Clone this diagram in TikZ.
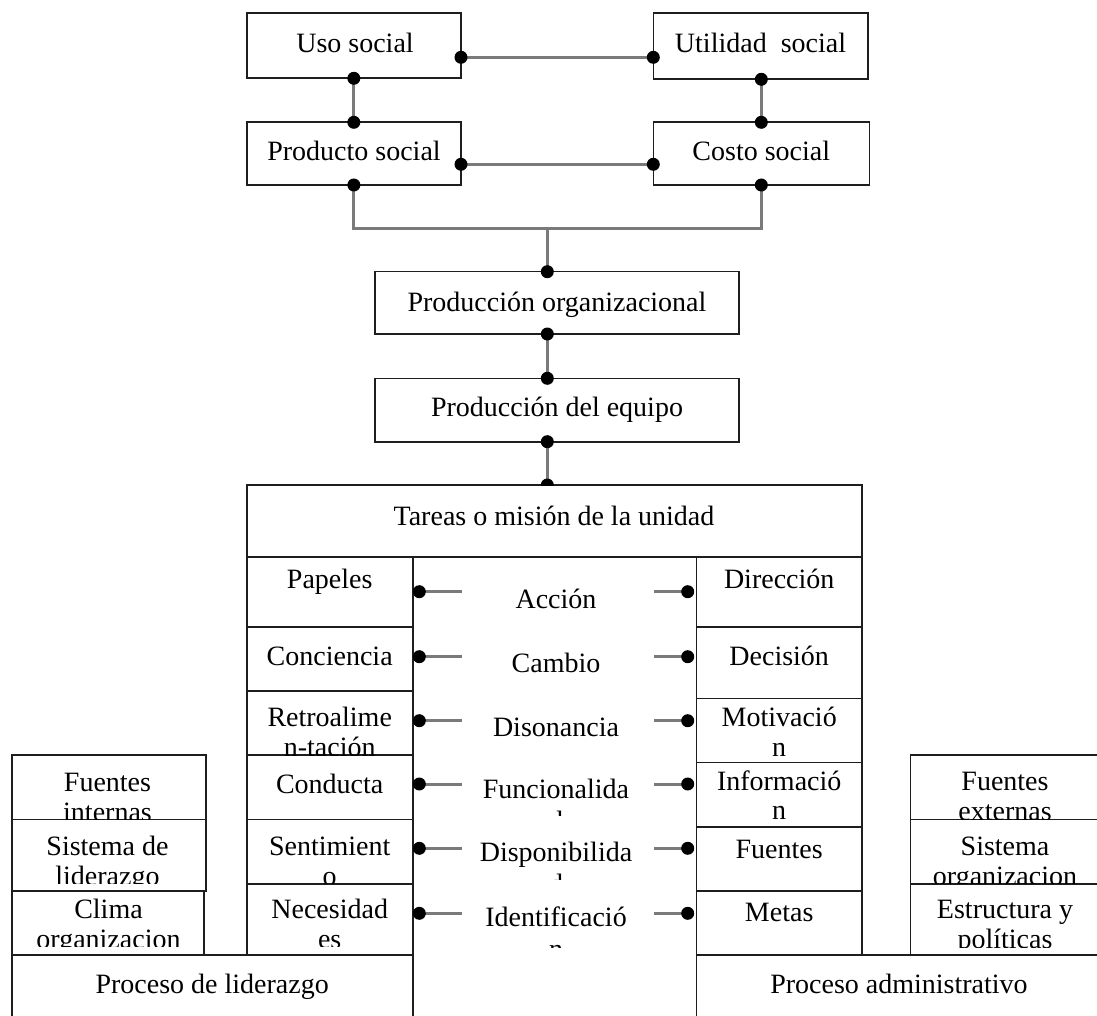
\documentclass[tikz,border=0pt]{standalone}
\usepackage{fontspec}
\setmainfont{Liberation Serif}
\usetikzlibrary{calc}
\definecolor{boxc}{HTML}{1E1E1E}
\definecolor{linkc}{HTML}{7A7A7A}
\tikzset{
  cellbox/.style={draw=boxc, line width=1.6pt, fill=white, inner sep=0pt, outer sep=0pt, shape=rectangle},
  lbl/.style={font=\fontsize{28}{30}\selectfont, text=black, inner sep=0pt, anchor=base},
  conn/.style={draw=linkc, line width=3pt},
  dotc/.style={fill=black},
}
% rectangle node from its corners: name, x1, y1, x2, y2
\newcommand\mkbox[5]{%
  \pgfmathsetmacro\mkboxW{#4-#2}\pgfmathsetmacro\mkboxH{#5-#3}%
  \pgfmathsetmacro\mkboxX{(#2+#4)/2}\pgfmathsetmacro\mkboxY{(#3+#5)/2}%
  \node[cellbox, minimum width=\mkboxW pt, minimum height=\mkboxH pt] (#1) at (\mkboxX,\mkboxY) {};}
% one line of text on a baseline: name, x, baseline, text
\newcommand\lbltext[4]{\node[lbl] (#1) at (#2,#3) {#4};}
\begin{document}
\begin{tikzpicture}[x=1pt,y=-1pt]
\useasboundingbox (0,0) rectangle (1097,1016);
\clip (0,0) rectangle (1097,1016);
\fill[white] (0,0) rectangle (1097,1016);

% ---------- upper chain ----------
\mkbox{uso}{246.7}{13.3}{461}{78.3}
\mkbox{util}{653.3}{13.3}{867.7}{79.3}
\mkbox{prod}{246.7}{122.3}{461}{185}
\mkbox{costo}{653.3}{122.3}{869.3}{185}
\mkbox{porg}{375}{271.7}{738.7}{334}
\mkbox{peq}{375}{378.3}{738.7}{441.7}
\mkbox{tareas}{246.7}{485}{862}{556.7}

\lbltext{t-uso}{355}{53}{Uso social}
\lbltext{t-util}{760.5}{53}{Utilidad~ social}
\lbltext{t-prod}{354}{161}{Producto social}
\lbltext{t-costo}{761.3}{161}{Costo social}
\lbltext{t-porg}{557}{311}{Producción organizacional}
\lbltext{t-peq}{557}{416}{Producción del equipo}
\lbltext{t-tareas}{554}{525}{Tareas o misión de la unidad}

% ---------- left column ----------
\mkbox{papeles}{246.7}{556.7}{412.7}{626.7}
\mkbox{conciencia}{246.7}{626.7}{412.7}{691}
\mkbox{retro}{246.7}{691}{412.7}{755}
\mkbox{conducta}{246.7}{755}{412.7}{819.3}
\mkbox{sentim}{246.7}{819.3}{412.7}{883.7}
\mkbox{necesid}{246.7}{883.7}{412.7}{955}

\lbltext{t-papeles}{329.7}{588}{Papeles}
\lbltext{t-conciencia}{329.7}{665}{Conciencia}
\begin{scope}
  \clip (247,691) rectangle (412,755);
  \lbltext{t-retro}{329.7}{726.5}{Retroalime}
  \lbltext{t-retro2}{329.7}{756.5}{n-tación}
\end{scope}
\lbltext{t-conducta}{329.7}{793}{Conducta}
\begin{scope}
  \clip (247,819.3) rectangle (412,883.7);
  \lbltext{t-sentim}{329.7}{855}{Sentimient}
  \lbltext{t-sentim2}{329.7}{885}{o}
\end{scope}
\begin{scope}
  \clip (247,883.7) rectangle (412,946);
  \lbltext{t-necesid}{329.7}{918}{Necesidad}
  \lbltext{t-necesid2}{329.7}{948}{es}
\end{scope}

% ---------- right column ----------
\mkbox{direccion}{696.3}{556.7}{862}{626.7}
\mkbox{decision}{696.3}{626.7}{862}{698.3}
\mkbox{motiv}{696.3}{698.3}{862}{762.3}
\mkbox{inform}{696.3}{762.3}{862}{826.7}
\mkbox{fuentesc}{696.3}{826.7}{862}{890.7}
\mkbox{metas}{696.3}{890.7}{862}{955}

\lbltext{t-direccion}{779.2}{588}{Dirección}
\lbltext{t-decision}{779.2}{665}{Decisión}
\begin{scope}
  \clip (697,698.3) rectangle (861,762.3);
  \lbltext{t-motiv}{779.2}{726.5}{Motivació}
  \lbltext{t-motiv2}{779.2}{756.5}{n}
\end{scope}
\begin{scope}
  \clip (697,762.3) rectangle (861,826.7);
  \lbltext{t-inform}{779.2}{790}{Informació}
  \lbltext{t-inform2}{779.2}{819.5}{n}
\end{scope}
\lbltext{t-fuentesc}{779.2}{858}{Fuentes}
\lbltext{t-metas}{779.2}{921.5}{Metas}

% ---------- middle column ----------
\lbltext{t-accion}{556}{608}{Acción}
\lbltext{t-cambio}{556}{672}{Cambio}
\lbltext{t-disonancia}{556}{736.5}{Disonancia}
\begin{scope}
  \clip (414,760) rectangle (695,815);
  \lbltext{t-funcional}{556}{798}{Funcionalida}
  \lbltext{t-funcional2}{556}{830}{d}
\end{scope}
\begin{scope}
  \clip (414,822) rectangle (695,879);
  \lbltext{t-disponib}{556}{861.5}{Disponibilida}
  \lbltext{t-disponib2}{556}{893.5}{d}
\end{scope}
\begin{scope}
  \clip (414,885) rectangle (695,947);
  \lbltext{t-identif}{556}{926}{Identificació}
  \lbltext{t-identif2}{556}{958}{n}
\end{scope}

% ---------- outer left boxes ----------
\mkbox{finternas}{11.7}{755}{205.7}{819.3}
\mkbox{sislid}{11.7}{819.3}{205.7}{890.7}
\mkbox{clima}{11.7}{890.7}{204}{955}
\begin{scope}
  \clip (12,755) rectangle (205,819.3);
  \lbltext{t-finternas}{107.5}{791.5}{Fuentes}
  \lbltext{t-finternas2}{107.5}{821.5}{internas}
\end{scope}
\begin{scope}
  \clip (12,819.3) rectangle (205,883);
  \lbltext{t-sislid}{107.5}{855}{Sistema de}
  \lbltext{t-sislid2}{107.5}{885}{liderazgo}
\end{scope}
\begin{scope}
  \clip (12,890.7) rectangle (203,946);
  \lbltext{t-clima}{108.5}{918}{Clima}
  \lbltext{t-clima2}{108.5}{948}{organizacion}
\end{scope}

% ---------- outer right boxes ----------
\mkbox{fexternas}{910.3}{755}{1110}{819.3}
\mkbox{sisorg}{910.3}{819.3}{1110}{883.7}
\mkbox{estruct}{910.3}{883.7}{1110}{955}
\begin{scope}
  \clip (911,755) rectangle (1097,819.3);
  \lbltext{t-fexternas}{1005}{790}{Fuentes}
  \lbltext{t-fexternas2}{1005}{820}{externas}
\end{scope}
\begin{scope}
  \clip (911,819.3) rectangle (1097,883.7);
  \lbltext{t-sisorg}{1005}{855}{Sistema}
  \lbltext{t-sisorg2}{1005}{885}{organizacion}
\end{scope}
\begin{scope}
  \clip (911,883.7) rectangle (1097,947);
  \lbltext{t-estruct}{1005}{918.5}{Estructura y}
  \lbltext{t-estruct2}{1005}{948.5}{políticas}
\end{scope}

% ---------- bottom processes ----------
\mkbox{plid}{11.7}{955}{412.7}{1030}
\mkbox{padm}{696.3}{955}{1110}{1030}
\lbltext{t-plid}{212.2}{993}{Proceso de liderazgo}
\lbltext{t-padm}{899}{993}{Proceso administrativo}

% ---------- connectors ----------
\coordinate (row1) at (0,57.3);
\coordinate (row2) at (0,164.3);
\coordinate (brk) at (0,228.3);
\coordinate (spine) at (547.3,0);

\draw[conn] (uso.east |- row1) -- (util.west |- row1);
\draw[conn] (prod.east |- row2) -- (costo.west |- row2);
\draw[conn] (uso.south) -- (prod.north);
\draw[conn] (util.south -| costo.north) -- (costo.north);
\draw[conn] (prod.south) -- (prod.south |- brk) -- (costo.south |- brk) -- (costo.south);
\draw[conn] (spine |- brk) -- (porg.north -| spine);
\draw[conn] (porg.south -| spine) -- (peq.north -| spine);
\draw[conn] (peq.south -| spine) -- (tareas.north -| spine);

\foreach \p in {uso.east |- row1, util.west |- row1, prod.east |- row2, costo.west |- row2,
                uso.south, prod.north, util.south -| costo.north, costo.north,
                prod.south, costo.south, porg.north -| spine, porg.south -| spine,
                peq.north -| spine, peq.south -| spine}
  \fill[dotc] (\p) circle[radius=6.5pt];
% the dot on the top edge of the task box sits half behind it
\begin{scope}
  \clip (0,0) rectangle (1097,485);
  \fill[dotc] (tareas.north -| spine) circle[radius=6.5pt];
\end{scope}

% links from the side columns towards the middle labels
\foreach \l/\r/\yy [count=\i] in {papeles/direccion/591.7, conciencia/decision/656.7,
                                  retro/motiv/720.7, conducta/inform/784,
                                  sentim/fuentesc/848.3, necesid/metas/913.3} {
  \coordinate (la\i) at (461.7,\yy);
  \coordinate (ra\i) at (654.3,\yy);
  \draw[conn] ($(\l.east |- la\i)+(6.6,0)$) coordinate (ld\i) -- (la\i);
  \draw[conn] (ra\i) -- ($(\r.west |- ra\i)+(-8.6,0)$) coordinate (rd\i);
  \fill[dotc] (ld\i) circle[radius=6.5pt];
  \fill[dotc] (rd\i) circle[radius=6.5pt];
}
\end{tikzpicture}
\end{document}
